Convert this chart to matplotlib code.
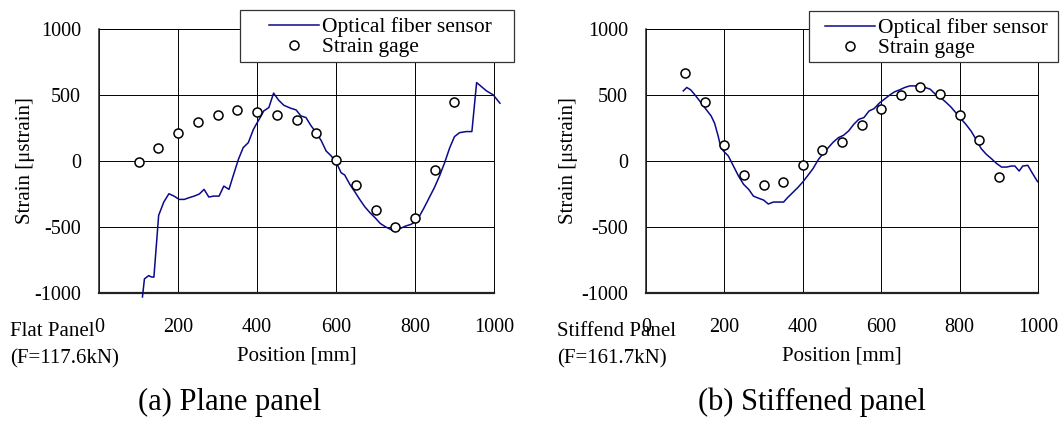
import matplotlib.pyplot as plt
from matplotlib.patches import Rectangle

plt.rcParams['font.family'] = ['Liberation Serif', 'DejaVu Serif']
plt.rcParams['axes.unicode_minus'] = False

# (a) flat panel
flat_fiber_x = [110, 115, 126, 132, 139, 151, 164, 177, 190, 203, 216, 228, 241, 254, 266, 278,
                290, 304, 316, 329, 340, 353, 365, 378, 391, 399, 408, 417, 430, 442, 455, 468,
                485, 499, 511, 524, 537, 550, 563, 575, 588, 601, 613, 622, 635, 648, 660, 673,
                686, 699, 712, 725, 742, 750, 763, 776, 789, 800, 810, 823, 836, 849, 862, 875,
                888, 900, 913, 930, 944, 956, 968, 981, 998, 1015]
flat_fiber_y = [-1030, -893, -868, -878, -880, -412, -311, -248, -266, -291, -291, -278, -266, -250, -215, -273,
                -266, -266, -190, -215, -109, 13, 101, 139, 240, 283, 329, 379, 405, 514, 460, 422,
                400, 387, 342, 329, 266, 215, 152, 76, 38, -13, -89, -106, -177, -235, -291, -347,
                -392, -430, -473, -498, -524, -519, -511, -493, -481, -463, -425, -354, -278, -202, -114, -13,
                101, 185, 215, 223, 223, 594, 564, 531, 501, 438]
flat_gage_x = [100, 150, 200, 250, 300, 350, 400, 450, 500, 550, 600, 650, 700, 750, 800, 850, 900]
flat_gage_y = [-5, 96, 210, 296, 347, 385, 372, 347, 309, 210, 5, -182, -369, -501, -435, -68, 448]

# (b) stiffened panel
stiff_fiber_x = [95, 104, 114, 127, 140, 153, 166, 175, 184, 191, 199, 210, 223, 236, 249, 262,
                 274, 288, 300, 312, 325, 338, 351, 361, 374, 387, 400, 413, 426, 439, 452, 465,
                 478, 491, 504, 517, 530, 543, 556, 569, 582, 595, 608, 621, 634, 647, 660, 673,
                 686, 699, 712, 725, 738, 751, 764, 777, 790, 803, 816, 829, 842, 855, 868, 881,
                 894, 907, 920, 932, 941, 952, 961, 974, 985, 999]
stiff_fiber_y = [531, 557, 539, 493, 443, 392, 342, 286, 190, 101, 71, 38, -38, -114, -177, -215,
                 -266, -283, -296, -326, -311, -311, -311, -278, -240, -202, -159, -109, -58, 8, 58, 101,
                 144, 177, 195, 228, 278, 316, 329, 379, 397, 438, 468, 498, 524, 539, 557, 569,
                 569, 564, 557, 544, 506, 481, 448, 412, 367, 321, 278, 228, 164, 94, 51, 18,
                 -18, -46, -46, -38, -38, -76, -38, -33, -89, -157]
stiff_gage_x = [100, 150, 200, 250, 300, 350, 400, 450, 500, 550, 600, 650, 700, 750, 800, 850, 900]
stiff_gage_y = [663, 448, 119, -106, -182, -157, -30, 83, 147, 273, 397, 498, 562, 511, 347, 157, -121]

x_ticks = [0, 200, 400, 600, 800, 1000]
y_ticks = [-1000, -500, 0, 500, 1000]

W, H = 1062, 421
fig = plt.figure(figsize=(W / 100, H / 100), dpi=100)


def draw_panel(left_px, right_px, fx, fy, gx, gy, box, handle_px, note, caption, caption_x, ylab_px):
    ax = fig.add_axes([left_px / W, 1 - 293 / H, (right_px - left_px) / W, 264 / H])
    ax.plot(fx, fy, color='#0a0a8a', linewidth=1.1, clip_on=False, zorder=3,
            label='Optical fiber sensor')
    ax.plot(gx, gy, linestyle='none', marker='o', markersize=6.5, markerfacecolor='white',
            markeredgecolor='black', markeredgewidth=1.1, zorder=4, label='Strain gage')
    ax.set_xlim(0, 1000)
    ax.set_ylim(-1000, 1000)
    ax.set_xticks(x_ticks)
    ax.set_yticks(y_ticks)
    ax.tick_params(length=0, labelsize=14.5)
    ax.tick_params(axis='x', pad=18)
    ax.tick_params(axis='y', pad=13)
    ax.grid(True, color='black', linewidth=0.7)
    ax.set_axisbelow(True)
    for side in ['top', 'right']:
        ax.spines[side].set_linewidth(0.7)
    ax.spines['left'].set_linewidth(1.1)
    ax.spines['bottom'].set_linewidth(1.6)
    ax.spines['left'].set_color('#222222')
    ax.spines['bottom'].set_color('#222222')
    ax.set_xlabel('Position [mm]', fontsize=15, labelpad=7)
    ax.set_ylabel('Strain [\u03bcstrain]', fontsize=15)
    ax.yaxis.set_label_coords((ylab_px - left_px) / (right_px - left_px), 0.5)

    # legend box sits partly outside the plot area, as in the original
    bx0, by0, bx1, by1 = box
    ax.add_patch(Rectangle((bx0 / W, 1 - by1 / H), (bx1 - bx0) / W, (by1 - by0) / H,
                           transform=fig.transFigure, facecolor='white', clip_on=False,
                           edgecolor='#333333', linewidth=0.9, zorder=5))
    leg = ax.legend(loc='upper left', bbox_to_anchor=(handle_px / W, 1 - (by0 + 7) / H),
                    bbox_transform=fig.transFigure, borderaxespad=0, fontsize=15.5,
                    frameon=False, labelspacing=0, handlelength=2.3, handletextpad=0.15,
                    borderpad=0)
    leg.set_zorder(6)
    fig.text((left_px - 89) / W, 1 - 331 / H, note[0], fontsize=15, ha='left', va='center')
    fig.text((left_px - 89) / W, 1 - 359 / H, note[1], fontsize=15, ha='left', va='center')
    fig.text(caption_x / W, 1 - 402 / H, caption, fontsize=22, ha='center', va='center')
    return ax


draw_panel(99, 494, flat_fiber_x, flat_fiber_y, flat_gage_x, flat_gage_y, (240, 10, 514, 62), 269,
           ('Flat Panel', '(F=117.6kN)'), '(a) Plane panel', 230, 35)
draw_panel(646, 1038, stiff_fiber_x, stiff_fiber_y, stiff_gage_x, stiff_gage_y, (809, 11, 1058, 62), 825,
           ('Stiffend Panel', '(F=161.7kN)'), '(b) Stiffened panel', 812, 578)

fig.savefig('out.png', dpi=100)
